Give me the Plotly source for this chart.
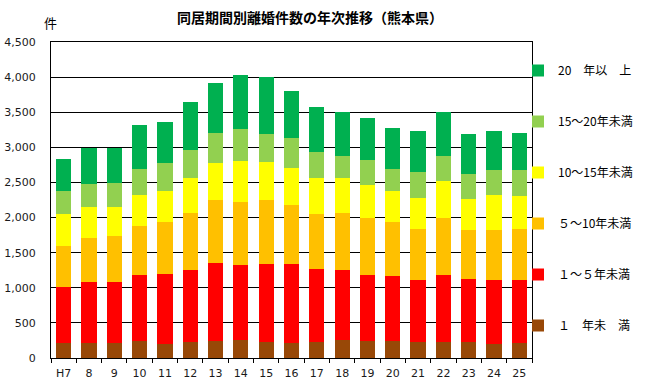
import plotly.graph_objects as go

years = ["H7", "8", "9", "10", "11", "12", "13", "14", "15", "16", "17",
         "18", "19", "20", "21", "22", "23", "24", "25"]

under1 = [208, 208, 208, 241, 194, 223, 241, 255, 223, 208, 223, 255, 241, 241, 223, 223, 223, 194, 213]
y1to5 = [809, 880, 880, 936, 998, 1035, 1116, 1074, 1120, 1135, 1049, 1003, 946, 932, 893, 964, 907, 922, 903]
y5to10 = [582, 624, 652, 705, 747, 809, 894, 894, 908, 837, 781, 809, 809, 766, 724, 809, 696, 710, 724]
y10to15 = [454, 440, 412, 440, 440, 496, 525, 581, 539, 525, 510, 496, 468, 440, 439, 522, 439, 496, 468]
y15to20 = [326, 326, 340, 369, 397, 397, 425, 453, 397, 425, 369, 312, 354, 312, 369, 357, 355, 355, 369]
over20 = [454, 511, 497, 624, 581, 681, 709, 767, 809, 667, 638, 624, 596, 581, 581, 624, 567, 552, 523]

series = [
    ("１　年未　満", under1, "#984807"),
    ("１～５年未満", y1to5, "#FF0000"),
    ("５～10年未満", y5to10, "#FFC000"),
    ("10～15年未満", y10to15, "#FFFF00"),
    ("15～20年未満", y15to20, "#92D050"),
    ("20　年以　上", over20, "#00B050"),
]

font_family = "Noto Sans CJK JP, DejaVu Sans, sans-serif"

fig = go.Figure()
for i, (name, vals, color) in enumerate(series):
    fig.add_trace(go.Bar(
        x=years, y=vals, name=name, marker_color=color,
        marker_line_width=0, legendgroup=str(i), legendrank=100 - i,
    ))

fig.update_layout(
    barmode="stack",
    bargap=0.4,
    width=652, height=385,
    margin=dict(l=51, r=120, t=42, b=27, autoexpand=False),
    paper_bgcolor="white",
    plot_bgcolor="white",
    font=dict(family=font_family, size=11, color="#000000"),
    title=dict(
        text="<b>同居期間別離婚件数の年次推移（熊本県）</b>",
        x=310 / 652, xanchor="center", y=1 - 18 / 385, yanchor="middle",
        font=dict(size=14, family=font_family, color="#000000"),
    ),
    legend=dict(
        xref="container", yref="container",
        x=518 / 652, xanchor="left", y=1 - 56 / 385, yanchor="top",
        tracegroupgap=32, maxheight=380,
        font=dict(size=12, family=font_family),
        itemwidth=30, bgcolor="rgba(0,0,0,0)",
    ),
    showlegend=True,
)

fig.update_xaxes(
    showline=True, linecolor="black", linewidth=1, mirror=True,
    ticks="outside", tickson="boundaries", ticklen=4, tickcolor="black",
    ticklabelstandoff=5,
    tickfont=dict(family="DejaVu Sans, sans-serif", size=11, color="#1a1a1a"),
)
fig.update_yaxes(
    range=[0, 4500], dtick=500, tickformat=",",
    showgrid=True, gridcolor="black", gridwidth=1,
    showline=True, linecolor="black", linewidth=1, mirror=True,
    ticks="", ticklabelstandoff=12,
    tickfont=dict(family="DejaVu Sans, sans-serif", size=11, color="#1a1a1a"),
    zeroline=False,
)

fig.add_annotation(
    text="件", xref="paper", yref="paper",
    x=(50 - 51) / 481, xanchor="center",
    y=1 + 20 / 316, yanchor="middle",
    showarrow=False, font=dict(size=13, family=font_family, color="#000000"),
)

fig.write_html(
    "out.html",
    config={"displayModeBar": False},
    post_script="document.body.style.margin='0';document.body.style.padding='0';",
)
